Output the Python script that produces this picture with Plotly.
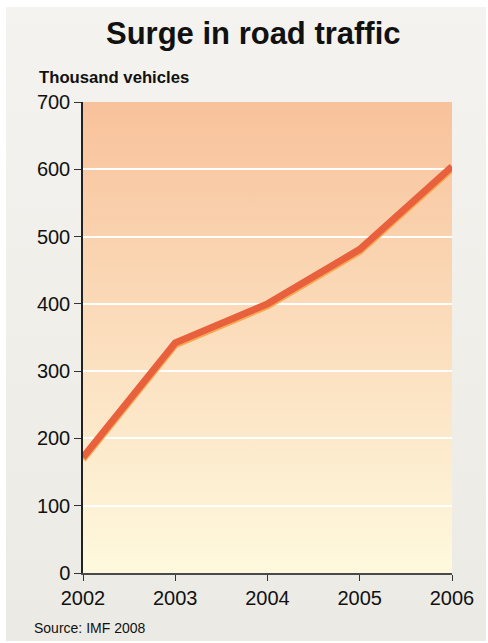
import base64
import plotly.graph_objects as go

# Road traffic, thousand vehicles
years = [2002, 2003, 2004, 2005, 2006]
vehicles = [172, 342, 400, 481, 604]
y_ticks = [0, 100, 200, 300, 400, 500, 600, 700]

W, H = 488, 643
M_L, M_R, M_T, M_B = 83, 36, 102, 70
plot_w = W - M_L - M_R
plot_h = H - M_T - M_B

LINE = "#e9603d"
SHADOW = "#f7a852"


def gradient_svg(top, bottom):
    svg = (
        '<svg xmlns="http://www.w3.org/2000/svg" width="10" height="100" '
        'preserveAspectRatio="none">'
        '<defs><linearGradient id="g" x1="0" y1="0" x2="0" y2="1">'
        f'<stop offset="0" stop-color="{top}"/>'
        f'<stop offset="1" stop-color="{bottom}"/>'
        '</linearGradient></defs>'
        '<rect width="10" height="100" fill="url(#g)"/></svg>'
    )
    return "data:image/svg+xml;base64," + base64.b64encode(svg.encode()).decode()


def px_x(p):
    return (p - M_L) / plot_w


def px_y(p):
    return (H - M_B - p) / plot_h


# shadow sits 2px below the line
shadow_off = 2 * (y_ticks[-1] - y_ticks[0]) / plot_h

fig = go.Figure()
fig.add_trace(go.Scatter(
    x=years, y=[v - shadow_off for v in vehicles], mode="lines",
    line=dict(color=SHADOW, width=7), hoverinfo="skip", showlegend=False,
))
fig.add_trace(go.Scatter(
    x=years, y=vehicles, mode="lines",
    line=dict(color=LINE, width=7), showlegend=False,
))

fig.update_layout(
    width=W, height=H,
    margin=dict(l=M_L, r=M_R, t=M_T, b=M_B),
    paper_bgcolor="white",
    plot_bgcolor="rgba(0,0,0,0)",
    font=dict(family="Liberation Sans, Arial, sans-serif", color="#111"),
    images=[
        dict(source=gradient_svg("#f4f3ef", "#ebeae4"), xref="paper", yref="paper",
             x=px_x(6), y=px_y(7), sizex=px_x(486) - px_x(6), sizey=px_y(7) - px_y(641),
             xanchor="left", yanchor="top", sizing="stretch", layer="below"),
        dict(source=gradient_svg("#f8c29b", "#fef9de"), xref="paper", yref="paper",
             x=0, y=1, sizex=1, sizey=1,
             xanchor="left", yanchor="top", sizing="stretch", layer="below"),
    ],
    xaxis=dict(
        range=[years[0], years[-1]], tickmode="array", tickvals=years,
        ticktext=[str(y) for y in years],
        showgrid=False, zeroline=False, showline=True, linecolor="#4a4a4a", linewidth=2,
        ticks="outside", ticklen=6, tickcolor="#333", tickwidth=1,
        tickfont=dict(size=20, color="#111"),
    ),
    yaxis=dict(
        range=[y_ticks[0], y_ticks[-1]], tickmode="array", tickvals=y_ticks,
        showgrid=True, gridcolor="white", gridwidth=1.5, zeroline=False,
        showline=True, linecolor="#222", linewidth=1.5,
        ticks="outside", ticklen=7, tickcolor="#333", tickwidth=1,
        tickfont=dict(size=20, color="#111"),
    ),
    annotations=[
        dict(text="<b>Surge in road traffic</b>", xref="paper", yref="paper",
             x=px_x(253), y=px_y(33), xanchor="center", yanchor="middle",
             showarrow=False, font=dict(size=31, color="#111")),
        dict(text="<b>Thousand vehicles</b>", xref="paper", yref="paper",
             x=px_x(37), y=px_y(77), xanchor="left", yanchor="middle",
             showarrow=False, font=dict(size=16.7, color="#111")),
        dict(text="Source: IMF 2008", xref="paper", yref="paper",
             x=px_x(32), y=px_y(628), xanchor="left", yanchor="middle",
             showarrow=False, font=dict(size=14, color="#111")),
    ],
)

fig.write_html("out.html")
